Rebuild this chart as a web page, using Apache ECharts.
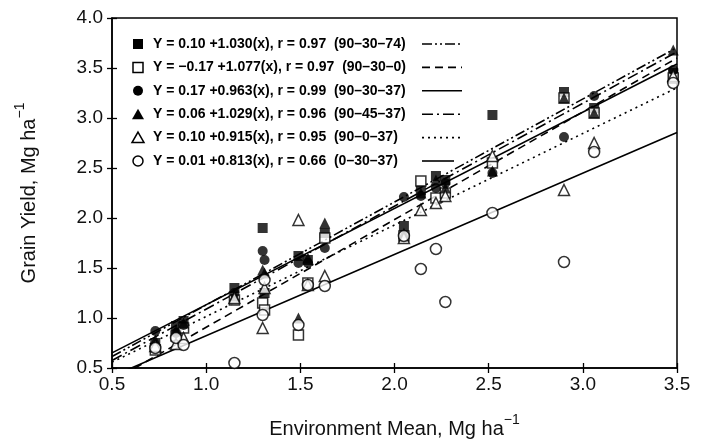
<!DOCTYPE html>
<html><head><meta charset="utf-8">
<script src="https://cdn.jsdelivr.net/npm/echarts@6/dist/echarts.min.js"></script>
<style>html,body{margin:0;padding:0;background:#fff}#c{width:706px;height:445px}</style>
</head><body><div id="c"></div>
<script>
// Environment means (x) shared by all treatments
const envMean = [0.73, 0.84, 0.88, 1.15, 1.30, 1.31, 1.49, 1.54, 1.63, 2.05, 2.14, 2.22, 2.27, 2.52, 2.90, 3.06, 3.48];
// Grain yield per treatment
const yield_90_30_74 = [0.75, 0.92, 0.97, 1.30, 1.90, 1.25, 1.62, 1.58, 1.85, 1.92, 2.28, 2.42, 2.38, 3.03, 3.26, 3.10, 3.45];
const yield_90_30_0  = [0.68, 0.82, 0.90, 1.18, 1.15, 1.08, 0.83, 1.35, 1.80, 1.82, 2.37, 2.20, 2.25, 2.55, 3.20, 3.05, 3.40];
const yield_90_30_37 = [0.87, 0.85, 0.93, 1.25, 1.67, 1.58, 1.55, 1.55, 1.70, 2.21, 2.22, 2.30, 2.35, 2.45, 2.81, 3.22, 3.48];
const yield_90_45_37 = [0.78, 0.88, 0.95, 1.22, 1.48, 1.45, 1.00, 1.60, 1.95, 1.85, 2.25, 2.38, 2.30, 2.47, 3.20, 3.05, 3.68];
const yield_90_0_37  = [0.72, 0.74, 0.80, 1.20, 0.90, 1.30, 1.98, 1.33, 1.42, 1.80, 2.08, 2.15, 2.22, 2.62, 2.28, 2.75, 3.42];
const yield_0_30_37  = [0.70, 0.80, 0.73, 0.55, 1.03, 1.38, 0.93, 1.33, 1.32, 1.82, 1.49, 1.69, 1.16, 2.05, 1.56, 2.66, 3.35];
// Regression fits shown in the legend
const treatments = ['90\u201330\u201374', '90\u201330\u20130', '90\u201330\u201337', '90\u201345\u201337', '90\u20130\u201337', '0\u201330\u201337'];
const fitIntercept = ['0.10', '\u22120.17', '0.17', '0.06', '0.10', '0.01'];
const fitSlope = ['1.030', '1.077', '0.963', '1.029', '0.915', '0.813'];
const fitR = ['0.97', '0.97', '0.99', '0.96', '0.95', '0.66'];
const xTicks = [0.5, 1.0, 1.5, 2.0, 2.5, 3.0, 3.5];
const yTicks = [0.5, 1.0, 1.5, 2.0, 2.5, 3.0, 3.5, 4.0];

const yields = [yield_90_30_74, yield_90_30_0, yield_90_30_37, yield_90_45_37, yield_90_0_37, yield_0_30_37];
const symbols = ['rect', 'rect', 'circle', 'triangle', 'triangle', 'circle'];
const filled = [true, false, true, true, false, false];
const sizes = [10, 10, 10, 11, 11, 11];
const dashes = [[10, 3, 2, 3, 2, 3], [8, 5], 'solid', [11, 4, 2, 4], [2, 4], 'solid'];

const chart = echarts.init(document.getElementById('c'), null, {renderer: 'canvas'});
const FONT = 'Liberation Sans';
const G = {left: 112, right: 29, top: 18, bottom: 77};

const series = [];
yields.forEach((ys, i) => {
  const a = parseFloat(fitIntercept[i].replace('\u2212', '-'));
  const b = parseFloat(fitSlope[i]);
  series.push({
    type: 'line', xAxisIndex: 0, yAxisIndex: 0, showSymbol: false, symbol: 'none',
    clip: true, z: 2, silent: true,
    lineStyle: {color: '#000', width: 1.6, type: dashes[i]},
    data: [[xTicks[0], a + b * xTicks[0]], [xTicks[xTicks.length - 1], a + b * xTicks[xTicks.length - 1]]]
  });
});
yields.forEach((ys, i) => {
  series.push({
    type: 'scatter', xAxisIndex: 0, yAxisIndex: 0, z: 5,
    symbol: symbols[i], symbolSize: sizes[i],
    itemStyle: filled[i] ? {color: '#000'} : {color: '#fff', borderColor: '#000', borderWidth: 1.5},
    data: envMean.map((x, j) => [x, ys[j]]).filter(d => d[1] != null)
  });
});

const graphic = [];
const rowY0 = 44, rowDy = 23.4, symX = 138, textX = 153, lnX1 = 422, lnX2 = 462;
treatments.forEach((t, i) => {
  const y = rowY0 + i * rowDy;
  const st = filled[i] ? {fill: '#000'} : {fill: '#fff', stroke: '#000', lineWidth: 1.5};
  if (symbols[i] === 'rect') graphic.push({type: 'rect', shape: {x: symX - 5, y: y - 5, width: 10, height: 10}, style: st});
  else if (symbols[i] === 'circle') graphic.push({type: 'circle', shape: {cx: symX, cy: y, r: 5}, style: st});
  else graphic.push({type: 'polygon', shape: {points: [[symX, y - 5.5], [symX + 6, y + 5], [symX - 6, y + 5]]}, style: st});
  graphic.push({type: 'text', x: textX, y: y, style: {
    text: 'Y = ' + fitIntercept[i] + ' +' + fitSlope[i] + '(x), r = ' + fitR[i] + '  (' + t + ')',
    font: 'bold 14px "' + FONT + '"', fill: '#000', verticalAlign: 'middle'}});
  graphic.push({type: 'line', shape: {x1: lnX1, y1: y, x2: i === 5 ? lnX2 - 8 : lnX2, y2: y},
    style: {stroke: '#000', lineWidth: 1.6, lineDash: dashes[i] === 'solid' ? null : dashes[i]}});
});

const labelStyle = {color: '#111', fontFamily: FONT, fontSize: 19};
const nameRich = {m: {fontFamily: FONT, fontSize: 20, color: '#111', lineHeight: 26, verticalAlign: 'bottom'},
                  s: {fontFamily: FONT, fontSize: 14, color: '#111', verticalAlign: 'top', lineHeight: 26}};
chart.setOption({
  animation: false,
  backgroundColor: '#fff',
  grid: {left: G.left, right: G.right, top: G.top, bottom: G.bottom, show: true, borderColor: '#000', borderWidth: 1.5},
  xAxis: [{
    type: 'value', min: 0.5, max: 3.5, interval: 0.5, position: 'bottom',
    axisLine: {show: true, onZero: false, lineStyle: {color: '#000', width: 1.5}},
    axisTick: {show: true, length: 5, lineStyle: {color: '#000', width: 1.3}},
    splitLine: {show: false},
    axisLabel: Object.assign({margin: 7, formatter: v => v.toFixed(1)}, labelStyle),
    name: '{m|Environment Mean, Mg ha}{s|\u22121}', nameLocation: 'middle', nameGap: 45,
    nameTextStyle: {rich: nameRich}
  }, {
    type: 'value', min: 0.5, max: 3.5, interval: 0.5, position: 'bottom',
    axisLine: {show: false, onZero: false}, axisLabel: {show: false}, splitLine: {show: false},
    axisTick: {show: true, inside: true, length: 5, lineStyle: {color: '#000', width: 1.3}}
  }],
  yAxis: [{
    type: 'value', min: 0.5, max: 4.0, interval: 0.5, position: 'left',
    axisLine: {show: true, onZero: false, lineStyle: {color: '#000', width: 1.5}},
    axisTick: {show: true, length: 5, lineStyle: {color: '#000', width: 1.3}},
    splitLine: {show: false},
    axisLabel: Object.assign({margin: 9, formatter: v => v.toFixed(1)}, labelStyle),
    name: '{m|Grain Yield, Mg ha}{s|\u22121}', nameLocation: 'middle', nameGap: 73, nameRotate: 90,
    nameTextStyle: {rich: nameRich}
  }, {
    type: 'value', min: 0.5, max: 4.0, interval: 0.5, position: 'left',
    axisLine: {show: false, onZero: false}, axisLabel: {show: false}, splitLine: {show: false},
    axisTick: {show: true, inside: true, length: 5, lineStyle: {color: '#000', width: 1.3}}
  }],
  series: series,
  graphic: graphic
});
</script></body></html>
